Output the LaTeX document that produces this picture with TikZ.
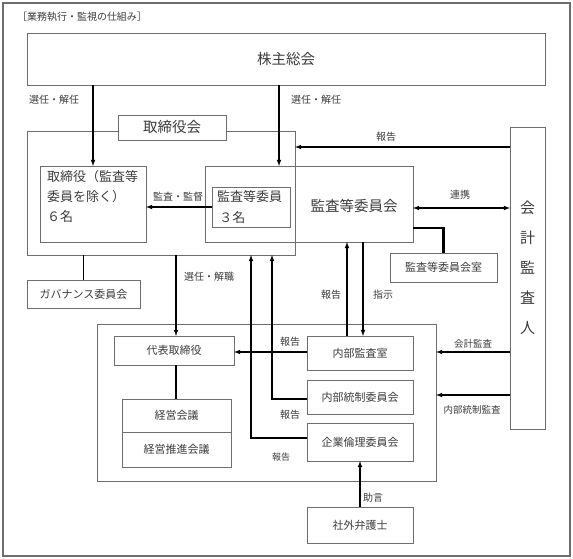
\documentclass[tikz,border=0pt]{standalone}
\usepackage{fontspec}
\setmainfont{Noto Sans CJK JP}
\usepackage{tikz}
\usetikzlibrary{arrows,calc,positioning}
\definecolor{boxgray}{RGB}{110,110,110}
\definecolor{txtgray}{RGB}{60,60,60}
\newcommand{\jpsize}[1]{\fontsize{#1}{#1}\selectfont}

\begin{document}
\begin{tikzpicture}[x=1pt, y=-1pt, >=latex,
   box/.style={draw=boxgray, line width=0.7pt, inner sep=0pt, outer sep=0pt, text=txtgray, font=\jpsize{11}},
   lbl/.style={inner sep=0pt, text=txtgray, font=\jpsize{10}},
   arr/.style={->, line width=1.1pt},
   link/.style={line width=1.1pt},
   heavy/.style={line width=2.4pt}]
   \useasboundingbox (0,0) rectangle (573,559);
   \draw[boxgray, line width=1.4pt] (3,3) rectangle (570,556);
   \node[lbl] (title) at (82,17) {［業務執行・監視の仕組み］};

   % upper part
   \node[box, minimum width=518pt, minimum height=52pt, font=\jpsize{14.5}] (soukai) at (286,59) {株主総会};
   \node[box, minimum width=268pt, minimum height=124pt] (board) at (161,193) {};
   \node[box, fill=white, minimum width=108pt, minimum height=25pt, font=\jpsize{14.5}] (boardtitle) at (172,127.5) {取締役会};
   \node[box, minimum width=106pt, minimum height=76pt,
     label={[lbl, font=\fontsize{13}{20}\selectfont, align=left, anchor=north west, xshift=7pt, yshift=-4pt]north west:{取締役（監査等\\委員を除く）\\６名}}] (directors) at (93,204) {};
   \node[box, minimum width=208pt, minimum height=76pt,
     label={[lbl, font=\jpsize{14.5}, xshift=45pt, yshift=-2pt]center:監査等委員会}] (acc) at (309,204) {};
   \node[box, minimum width=78pt, minimum height=40pt,
     label={[lbl, font=\fontsize{13}{21}\selectfont, align=left, anchor=north west, xshift=5pt, yshift=-3.5pt]north west:{監査等委員\\\,３名}}] (accm) at (251,207) {};
   \node[box, minimum width=35pt, minimum height=302pt,
     label={[lbl, font=\fontsize{15}{30}\selectfont, align=center, yshift=10pt]center:{会\\計\\監\\査\\人}}] (auditor) at (527.5,278) {};
   \node[box, minimum width=107pt, minimum height=29pt] (accroom) at (443.5,267.5) {監査等委員会室};
   \node[box, minimum width=113pt, minimum height=28pt] (gov) at (83.5,294) {ガバナンス委員会};

   % execution part
   \node[box, minimum width=339pt, minimum height=157pt] (exec) at (266.5,402.5) {};
   \node[box, minimum width=120pt, minimum height=29pt] (rep) at (174,350.5) {代表取締役};
   \node[box, minimum width=109pt, minimum height=33.5pt] (keiei) at (176.5,415.75) {経営会議};
   \node[box, minimum width=109pt, minimum height=34.5pt] (suishin) at (176.5,449.75) {経営推進会議};
   \node[box, minimum width=106pt, minimum height=34pt] (naibu) at (360,353) {内部監査室};
   \node[box, minimum width=106pt, minimum height=34pt] (tousei) at (360,397) {内部統制委員会};
   \node[box, minimum width=106pt, minimum height=38pt] (rinri) at (360,442) {企業倫理委員会};
   \node[box, minimum width=106pt, minimum height=36pt] (bengo) at (360,525) {社外弁護士};

   % connectors
   \draw[arr] (directors.north |- soukai.south) -- (directors.north);
   \draw[arr] (soukai.south -| 279,0) -- (acc.north -| 279,0);
   \draw[arr] (accm.west) -- (accm.west -| directors.east);
   \draw[arr] (auditor.west |- 0,147) -- (board.east |- 0,147);
   \draw[<->, link] (acc.east |- 0,208) -- (auditor.west |- 0,208);
   \draw[heavy] (acc.east |- 0,228) -| (accroom.north);
   \draw[link] (board.south -| gov.north) -- (gov.north);
   \draw[arr] (board.south -| 176,0) -- (rep.north -| 176,0);
   \draw[link, line width=1.6pt] (rep.south -| 176,0) -- (keiei.north -| 176,0);
   \draw[arr] (naibu.west |- 0,352) -- (rep.east |- 0,352);
   \draw[arr] (tousei.west |- 0,399) -| (board.south -| 272,0);
   \draw[arr] (rinri.west |- 0,438) -| (board.south -| 251,0);
   \draw[arr] (naibu.north -| 347,0) -- (acc.south -| 347,0);
   \draw[arr] (acc.south -| 363,0) -- (naibu.north -| 363,0);
   \draw[arr] (auditor.west |- 0,352) -- (exec.east |- 0,352);
   \draw[arr] (auditor.west |- 0,395) -- (exec.east |- 0,395);
   \draw[arr] (bengo.north) -- (rinri.south);

   % connector labels
   \node[lbl] (lsenin1) at (54,100) {選任・解任};
   \node[lbl] (lsenin2) at (316,100) {選任・解任};
   \node[lbl] (lhoukoku1) at (386,137) {報告};
   \node[lbl] (lkansa) at (178,197) {監査・監督};
   \node[lbl] (lrenkei) at (460,195) {連携};
   \node[lbl] (lkaishoku) at (209,277) {選任・解職};
   \node[lbl] (lhoukoku2) at (331,295) {報告};
   \node[lbl] (lshiji) at (383,295) {指示};
   \node[lbl] (lhoukoku3) at (290,342) {報告};
   \node[lbl] (lhoukoku4) at (290,415) {報告};
   \node[lbl, font=\jpsize{9}] (lhoukoku5) at (281,457) {報告};
   \node[lbl, font=\jpsize{9.5}] (lkaikei) at (473,344) {会計監査};
   \node[lbl, font=\jpsize{9.5}] (lnaibutousei) at (472,410) {内部統制監査};
   \node[lbl] (ljogen) at (373,498) {助言};
\end{tikzpicture}
\end{document}
